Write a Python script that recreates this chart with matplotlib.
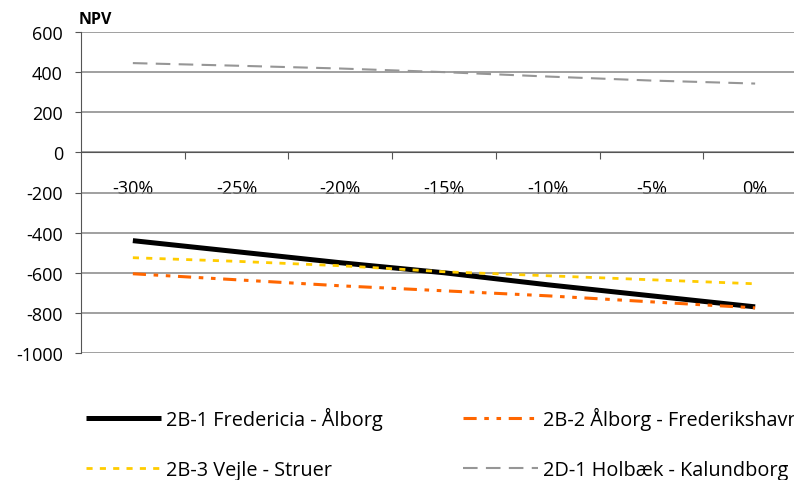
import matplotlib
matplotlib.use("Agg")
import matplotlib.pyplot as plt
import numpy as np

plt.rcParams['font.family'] = ['Open Sans', 'DejaVu Sans']
plt.rcParams['axes.unicode_minus'] = False

categories = ["-30%", "-25%", "-20%", "-15%", "-10%", "-5%", "0%"]
fredericia_alborg = [-440, -495, -550, -600, -660, -715, -770]
alborg_frederikshavn = [-605, -635, -665, -690, -715, -745, -775]
vejle_struer = [-525, -543, -565, -595, -615, -635, -655]
holbaek_kalundborg = [445, 432, 418, 400, 378, 358, 343]

fig = plt.figure(figsize=(7.94, 4.81), dpi=100)
ax = fig.add_axes([81 / 794, 1 - 354 / 481, 726 / 794, 321 / 481])

x = np.arange(len(categories))
l1, = ax.plot(x, fredericia_alborg, color="black", lw=3.6, solid_capstyle="butt",
              label="2B-1 Fredericia - Ålborg")
l2, = ax.plot(x, alborg_frederikshavn, color="#FF6600", lw=2.2,
              dashes=(4.3, 2.5, 1.5, 2.5, 1.5, 2.5), label="2B-2 Ålborg - Frederikshavn")
l3, = ax.plot(x, vejle_struer, color="#FFCC00", lw=2.0,
              dashes=(2.2, 2.6), label="2B-3 Vejle - Struer")
l4, = ax.plot(x, holbaek_kalundborg, color="#969696", lw=1.5,
              dashes=(7, 4), label="2D-1 Holbæk - Kalundborg")

ax.set_xlim(-0.5, len(categories) - 0.5)
ax.set_ylim(-1000, 600)
ax.set_yticks(np.arange(-1000, 601, 200))
ax.yaxis.grid(True, color="#868686", lw=1.1)
ax.set_axisbelow(True)

for s in ["top", "right"]:
    ax.spines[s].set_visible(False)
ax.spines["left"].set_color("#555555")
ax.spines["bottom"].set_position(("data", 0))
ax.spines["bottom"].set_color("#555555")

# ticks between categories, labels in the middle
ax.set_xticks(np.arange(0.5, len(categories) - 0.5, 1))
ax.set_xticklabels([])
ax.set_xticks(x, minor=True)
ax.set_xticklabels(categories, minor=True)
ax.tick_params(axis="x", which="major", direction="out", length=5, color="#555555")
ax.tick_params(axis="x", which="minor", length=0, pad=19, labelsize=13)
ax.tick_params(axis="y", direction="out", length=4, color="#555555", labelsize=13, pad=9)

fig.text(79 / 794, 1 - 20 / 481, "NPV", fontsize=11.5, fontweight="bold", va="center")

fig.legend([l1, l3, l2, l4], [l1.get_label(), l3.get_label(), l2.get_label(), l4.get_label()],
           ncol=2, loc="upper left", bbox_to_anchor=(78 / 794, 1 - 400 / 481),
           frameon=False, fontsize=14.3, handlelength=3.8, handletextpad=0.25,
           labelspacing=1.5, columnspacing=4.0, borderaxespad=0)

fig.savefig("out.png", dpi=100)
